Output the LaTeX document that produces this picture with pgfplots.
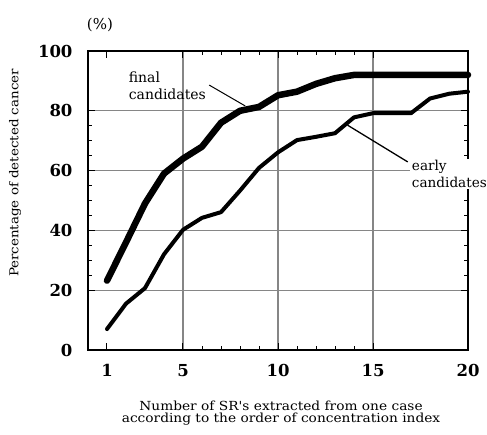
\documentclass[border=0pt]{standalone}
\usepackage{fontspec}
\setmainfont{DejaVu Serif}
\newfontfamily\widefont[FakeStretch=1.1]{DejaVu Serif}
\usepackage{pgfplots}
\pgfplotsset{compat=1.18}
\begin{document}
\begin{tikzpicture}
\begin{axis}[
  scale only axis=true,
  width=380pt, height=299pt,
  xmin=0, xmax=20, ymin=0, ymax=100,
  xtick={5,10,15},
  extra x ticks={1,20},
  extra x tick style={grid=none},
  minor x tick num=4,
  ytick={20,40,60,80},
  extra y ticks={0,100},
  extra y tick style={grid=none},
  minor y tick num=3,
  grid=major,
  major grid style={draw=gray!95, line width=1.4pt},
  axis line style={line width=1.5pt},
  tick style={black, line width=1pt},
  major tick length=7pt,
  minor tick length=4pt,
  tick align=inside,
  ticklabel style={font=\fontsize{16.5}{18}\selectfont\bfseries},
  xticklabel style={yshift=-11pt},
  yticklabel style={xshift=-12pt},
  /pgf/number format/assume math mode=true,
  clip=false,
]
\addplot[black, line width=6.5pt, line join=round, line cap=round] coordinates {
(1,23.2) (2,36) (3,49) (4,59) (5,64) (6,68) (7,76) (8,80) (9,81.3) (10,85.2)
(11,86.4) (12,89) (13,90.9) (14,92) (15,92) (16,92) (17,92) (18,92) (19,92) (20,92)};
\addplot[black, line width=4pt, line join=round, line cap=round] coordinates {
(1,7) (2,15.5) (3,20.7) (4,32) (5,40.2) (6,44.2) (7,46.1) (8,53.3) (9,60.9) (10,66.1)
(11,70.2) (12,71.3) (13,72.5) (14,77.8) (15,79.2) (16,79.2) (17,79.2) (18,84.1) (19,85.7) (20,86.4)};
\draw[line width=1pt] (axis cs:6.38,88.6) -- (axis cs:8.28,81.6);
\draw[line width=1.3pt] (axis cs:13.66,75.2) -- (axis cs:16.83,62.9);
\node[anchor=west, align=left, inner sep=0pt, font=\fontsize{14}{17}\selectfont] at (axis cs:2.14,88.5) {final\\candidates};
\node[font=\fontsize{15}{16}\selectfont] at (axis cs:0.63,108.8) {(\%)};
\node[rotate=90, font=\widefont\fontsize{12.2}{15}\selectfont] at (axis description cs:-0.192,0.592) {Percentage of detected cancer};
\node[align=center, font=\widefont\fontsize{12.5}{12.5}\selectfont] at (axis description cs:0.508,-0.211) {Number of SR's extracted from one case\\according to the order of concentration index};
\coordinate (earlyT) at (axis cs:17.12,58.9);
\coordinate (bl) at (rel axis cs:0,0);
\coordinate (tr) at (rel axis cs:1,1);
\end{axis}
\node[anchor=west, align=left, fill=white, inner sep=1.5pt, font=\fontsize{13.6}{16.5}\selectfont] at ([xshift=-3pt]earlyT) {early\\candidates};
\pgfresetboundingbox
\path ([shift={(-88pt,-84pt)}]bl) rectangle ([shift={(19pt,51pt)}]tr);
\end{tikzpicture}
\end{document}
